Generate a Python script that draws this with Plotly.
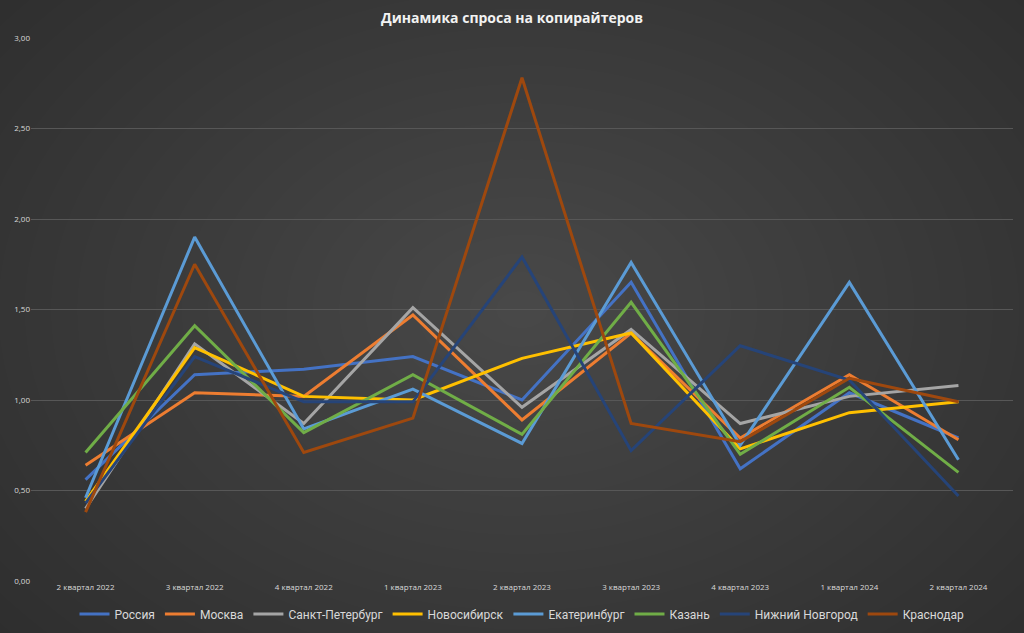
import plotly.graph_objects as go

quarters = ['2 квартал 2022', '3 квартал 2022', '4 квартал 2022', '1 квартал 2023',
            '2 квартал 2023', '3 квартал 2023', '4 квартал 2023', '1 квартал 2024',
            '2 квартал 2024']

russia = [0.56, 1.14, 1.17, 1.24, 1.00, 1.65, 0.62, 1.04, 0.79]
moscow = [0.64, 1.04, 1.02, 1.47, 0.89, 1.37, 0.79, 1.14, 0.78]
spb = [0.40, 1.31, 0.87, 1.51, 0.96, 1.39, 0.87, 1.02, 1.08]
novosibirsk = [0.44, 1.29, 1.02, 1.00, 1.23, 1.37, 0.73, 0.93, 0.99]
ekaterinburg = [0.46, 1.90, 0.84, 1.06, 0.76, 1.76, 0.75, 1.65, 0.67]
kazan = [0.71, 1.41, 0.82, 1.14, 0.81, 1.54, 0.70, 1.07, 0.60]
nnovgorod = [0.43, 1.24, 0.99, 0.99, 1.79, 0.72, 1.30, 1.11, 0.47]
krasnodar = [0.38, 1.75, 0.71, 0.90, 2.78, 0.87, 0.77, 1.12, 0.99]

series = [
    ('Россия', russia, '#4472C4'),
    ('Москва', moscow, '#ED7D31'),
    ('Санкт-Петербург', spb, '#A5A5A5'),
    ('Новосибирск', novosibirsk, '#FFC000'),
    ('Екатеринбург', ekaterinburg, '#5B9BD5'),
    ('Казань', kazan, '#70AD47'),
    ('Нижний Новгород', nnovgorod, '#264478'),
    ('Краснодар', krasnodar, '#9E480E'),
]

fig = go.Figure()
for name, vals, color in series:
    fig.add_trace(go.Scatter(x=quarters, y=vals, name=name, mode='lines',
                             line=dict(color=color, width=3)))

# soft radial glow to imitate the gradient background
shapes = []
n = 30
for i in range(n):
    r = 0.8 - i * 0.8 / n
    shapes.append(dict(type='circle', xref='paper', yref='paper', layer='below',
                       x0=0.5 - r, x1=0.5 + r, y0=0.5 - r * 1.3, y1=0.5 + r * 1.3,
                       fillcolor='rgba(255,255,255,0.0085)', line=dict(width=0)))

fig.update_layout(
    width=1024, height=633,
    paper_bgcolor='#2a2a2a', plot_bgcolor='rgba(0,0,0,0)',
    margin=dict(l=31, r=11, t=38, b=52, autoexpand=False),
    separators=', ',
    shapes=shapes,
    title=dict(text='<b>Динамика спроса на копирайтеров</b>', x=0.5, xanchor='center',
               yref='container', y=1 - 18 / 633, yanchor='middle',
               font=dict(family='Open Sans', size=14, color='#f2f2f2')),
    font=dict(family='Open Sans', color='#d9d9d9'),
    legend=dict(orientation='h', x=0.5, xanchor='center', yref='container',
                y=1 - 614 / 633, yanchor='middle', bgcolor='rgba(0,0,0,0)',
                font=dict(family='Roboto', size=12, color='#d9d9d9'),
                itemwidth=30, tracegroupgap=0),
)
fig.update_xaxes(range=[-0.5, 8.5], showgrid=False, zeroline=False, showline=False,
                 automargin=False, ticks='', tickfont=dict(size=8, color='#d9d9d9'))
fig.update_yaxes(range=[0, 3], dtick=0.5, tickformat='.2f', showgrid=True,
                 gridcolor='#575757', gridwidth=1, zeroline=False, showline=False,
                 automargin=False, ticks='', tickfont=dict(size=8, color='#d9d9d9'))

fig.write_html('out.html', config={'displayModeBar': False},
               post_script="document.body.style.margin='0';")
